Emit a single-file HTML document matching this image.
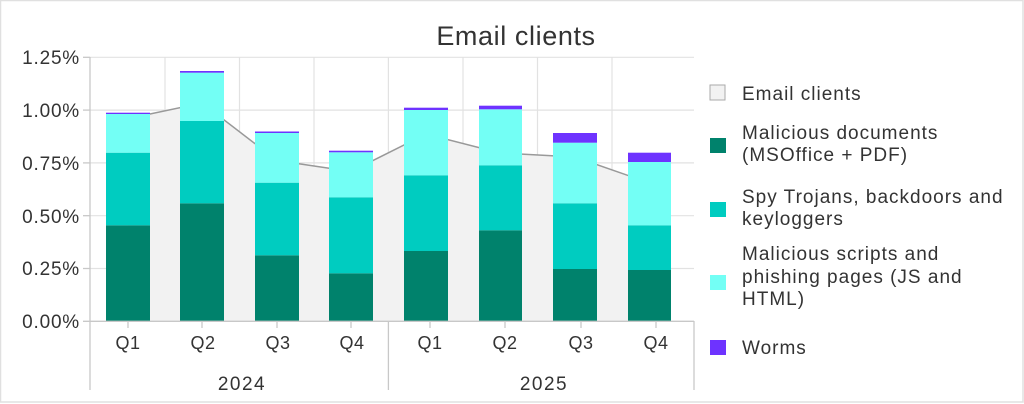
<!DOCTYPE html>
<html><head><meta charset="utf-8"><style>
html,body{margin:0;padding:0;background:#fff}
svg{display:block}
text{font-family:"Liberation Sans",sans-serif;fill:#333}
</style></head><body>
<svg width="1024" height="404" viewBox="0 0 1024 404" xmlns="http://www.w3.org/2000/svg">
<rect x="0.5" y="0.5" width="1022.5" height="401.5" fill="#fff" stroke="#e0e0e0" stroke-width="1.5"/>
<text x="516" y="45" font-size="27" letter-spacing="0.6" text-anchor="middle">Email clients</text>
<!-- grid -->
<g stroke="#e2e2e2" stroke-width="1.2">
<line x1="90" y1="57.3" x2="694" y2="57.3"/>
<line x1="90" y1="110.1" x2="694" y2="110.1"/>
<line x1="90" y1="162.9" x2="694" y2="162.9"/>
<line x1="90" y1="215.7" x2="694" y2="215.7"/>
<line x1="90" y1="268.5" x2="694" y2="268.5"/>
<line x1="165" y1="57" x2="165" y2="321"/>
<line x1="239.5" y1="57" x2="239.5" y2="321"/>
<line x1="314" y1="57" x2="314" y2="321"/>
<line x1="388.4" y1="57" x2="388.4" y2="321"/>
<line x1="463" y1="57" x2="463" y2="321"/>
<line x1="537.5" y1="57" x2="537.5" y2="321"/>
<line x1="612" y1="57" x2="612" y2="321"/>
</g>
<!-- area -->
<polygon points="128,321.3 128,118.6 202,103 277,160.5 351,171.5 426,134 500,153 575,157 649,182.8 649,321.3" fill="#f2f2f2"/>
<polyline points="128,118.6 202,103 277,160.5 351,171.5 426,134 500,153 575,157 649,182.8" fill="none" stroke="#999" stroke-width="1.5"/>
<!-- bars -->
<g>
<rect x="106" y="225.3" width="44" height="96" fill="#00826c"/><rect x="106" y="152.7" width="44" height="72.6" fill="#00ccc0"/><rect x="106" y="114" width="44" height="38.7" fill="#73fff5"/><rect x="106" y="112.7" width="44" height="1.3" fill="#6e33ff"/>
<rect x="180" y="203.3" width="44" height="118" fill="#00826c"/><rect x="180" y="121" width="44" height="82.3" fill="#00ccc0"/><rect x="180" y="72.7" width="44" height="48.3" fill="#73fff5"/><rect x="180" y="71" width="44" height="1.7" fill="#6e33ff"/>
<rect x="255" y="255.3" width="44" height="66" fill="#00826c"/><rect x="255" y="182.7" width="44" height="72.6" fill="#00ccc0"/><rect x="255" y="133" width="44" height="49.7" fill="#73fff5"/><rect x="255" y="131.5" width="44" height="1.5" fill="#6e33ff"/>
<rect x="329" y="273.3" width="44" height="48" fill="#00826c"/><rect x="329" y="197.3" width="44" height="76" fill="#00ccc0"/><rect x="329" y="152.3" width="44" height="45" fill="#73fff5"/><rect x="329" y="150.7" width="44" height="1.6" fill="#6e33ff"/>
<rect x="404" y="251" width="44" height="70.3" fill="#00826c"/><rect x="404" y="175.3" width="44" height="75.7" fill="#00ccc0"/><rect x="404" y="110" width="44" height="65.3" fill="#73fff5"/><rect x="404" y="107.7" width="44" height="2.3" fill="#6e33ff"/>
<rect x="479" y="230.3" width="43" height="91" fill="#00826c"/><rect x="479" y="165.3" width="43" height="65" fill="#00ccc0"/><rect x="479" y="109.3" width="43" height="56" fill="#73fff5"/><rect x="479" y="105.7" width="43" height="3.6" fill="#6e33ff"/>
<rect x="553" y="269" width="44" height="52.3" fill="#00826c"/><rect x="553" y="203.3" width="44" height="65.7" fill="#00ccc0"/><rect x="553" y="142.7" width="44" height="60.6" fill="#73fff5"/><rect x="553" y="133" width="44" height="9.7" fill="#6e33ff"/>
<rect x="628" y="270" width="43" height="51.3" fill="#00826c"/><rect x="628" y="225.3" width="43" height="44.7" fill="#00ccc0"/><rect x="628" y="162" width="43" height="63.3" fill="#73fff5"/><rect x="628" y="152.7" width="43" height="9.3" fill="#6e33ff"/>
</g>
<!-- axes -->
<g stroke="#c8c8c8" stroke-width="1.3">
<line x1="90" y1="57" x2="90" y2="390"/>
<line x1="83" y1="57.3" x2="90" y2="57.3"/><line x1="83" y1="110.1" x2="90" y2="110.1"/><line x1="83" y1="162.9" x2="90" y2="162.9"/><line x1="83" y1="215.7" x2="90" y2="215.7"/><line x1="83" y1="268.5" x2="90" y2="268.5"/>
<line x1="83" y1="321.3" x2="694" y2="321.3"/>
<line x1="388.4" y1="321" x2="388.4" y2="390"/>
<line x1="694" y1="321" x2="694" y2="390"/>
<line x1="128" y1="321" x2="128" y2="328"/><line x1="202" y1="321" x2="202" y2="328"/><line x1="277" y1="321" x2="277" y2="328"/><line x1="351" y1="321" x2="351" y2="328"/>
<line x1="430" y1="321" x2="430" y2="328"/><line x1="505" y1="321" x2="505" y2="328"/><line x1="581" y1="321" x2="581" y2="328"/><line x1="656" y1="321" x2="656" y2="328"/>
</g>
<g font-size="19" letter-spacing="0.8" text-anchor="end">
<text x="80" y="64">1.25%</text><text x="80" y="117">1.00%</text><text x="80" y="170">0.75%</text><text x="80" y="223">0.50%</text><text x="80" y="275">0.25%</text><text x="80" y="328">0.00%</text>
</g>
<g font-size="18" letter-spacing="0.5" text-anchor="middle">
<text x="128" y="349">Q1</text><text x="203" y="349">Q2</text><text x="278" y="349">Q3</text><text x="352" y="349">Q4</text>
<text x="430" y="349">Q1</text><text x="505" y="349">Q2</text><text x="581" y="349">Q3</text><text x="656" y="349">Q4</text>
</g>
<g font-size="19" letter-spacing="1.5" text-anchor="middle">
<text x="242" y="390">2024</text><text x="544" y="390">2025</text>
</g>
<!-- legend -->
<rect x="710" y="85" width="15" height="15" fill="#f2f2f2" stroke="#aaa" stroke-width="1"/>
<rect x="710" y="138" width="16" height="15" fill="#00826c"/>
<rect x="710" y="202" width="16" height="15" fill="#00ccc0"/>
<rect x="710" y="275" width="16" height="15" fill="#73fff5"/>
<rect x="710" y="340" width="16" height="15" fill="#6e33ff"/>
<g font-size="19" letter-spacing="1">
<text x="742" y="100">Email clients</text>
<text x="742" y="139">Malicious documents</text><text x="742" y="161">(MSOffice + PDF)</text>
<text x="742" y="203">Spy Trojans, backdoors and</text><text x="742" y="225">keyloggers</text>
<text x="742" y="260">Malicious scripts and</text><text x="742" y="283">phishing pages (JS and</text><text x="742" y="305">HTML)</text>
<text x="742" y="354">Worms</text>
</g>
</svg>
</body></html>
